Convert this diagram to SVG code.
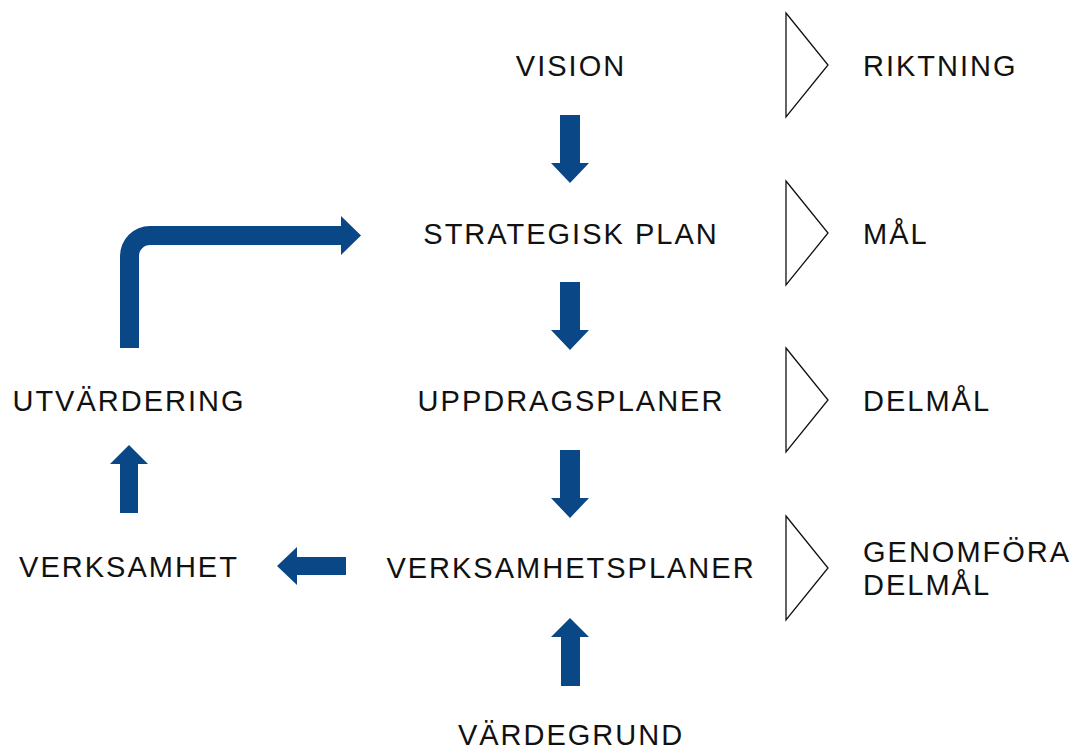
<svg xmlns="http://www.w3.org/2000/svg" width="1078" height="747" viewBox="0 0 1078 747">
<style>
.t{font-family:"Liberation Sans",Arial,sans-serif;font-size:29px;letter-spacing:2px;fill:#111;}
.m{text-anchor:middle;}
.a{fill:#0a4786;}
.tri{fill:#fff;stroke:#111;stroke-width:1.3;}
</style>
<rect width="1078" height="747" fill="#fff"/>
<g id="vision"><text class="t m" x="571" y="76">VISION</text></g>
<g id="strategisk-plan"><text class="t m" x="571" y="244">STRATEGISK PLAN</text></g>
<g id="uppdragsplaner"><text class="t m" x="571" y="411">UPPDRAGSPLANER</text></g>
<g id="verksamhetsplaner"><text class="t m" x="571" y="578">VERKSAMHETSPLANER</text></g>
<g id="vardegrund"><text class="t m" x="571" y="745">VÄRDEGRUND</text></g>
<g id="utvardering"><text class="t m" x="129" y="411">UTVÄRDERING</text></g>
<g id="verksamhet"><text class="t m" x="129" y="577">VERKSAMHET</text></g>
<g id="riktning"><polygon class="tri" points="786,13 828,65 786,117"/><text class="t" x="863" y="76">RIKTNING</text></g>
<g id="mal"><polygon class="tri" points="786,181 828,233 786,285"/><text class="t" x="863" y="244">MÅL</text></g>
<g id="delmal"><polygon class="tri" points="786,348 828,400 786,452"/><text class="t" x="863" y="411">DELMÅL</text></g>
<g id="genomfora"><polygon class="tri" points="786,516 828,568 786,620"/><text class="t" x="863" y="562">GENOMFÖRA</text><text class="t" x="863" y="595">DELMÅL</text></g>
<g id="connectors">
<polygon class="a" points="560,115 580,115 580,163 589,163 570,183 551,163 560,163"/>
<polygon class="a" points="560,282 580,282 580,330 589,330 570,350 551,330 560,330"/>
<polygon class="a" points="560,450 580,450 580,498 589,498 570,518 551,498 560,498"/>
<polygon class="a" points="561,686 580,686 580,637 589,637 570,618 551,637 561,637"/>
<polygon class="a" points="346,557 346,575 297,575 297,585 277,566 297,547 297,557"/>
<polygon class="a" points="120,513 138,513 138,464 148,464 129,445 110,464 120,464"/>
<path class="a" d="M120,348 L120,256 A30,30 0 0 1 150,226 L341,226 L341,216 L361,235.5 L341,255 L341,245 L150,245 A11,11 0 0 0 139,256 L139,348 Z"/>
</g>
</svg>
